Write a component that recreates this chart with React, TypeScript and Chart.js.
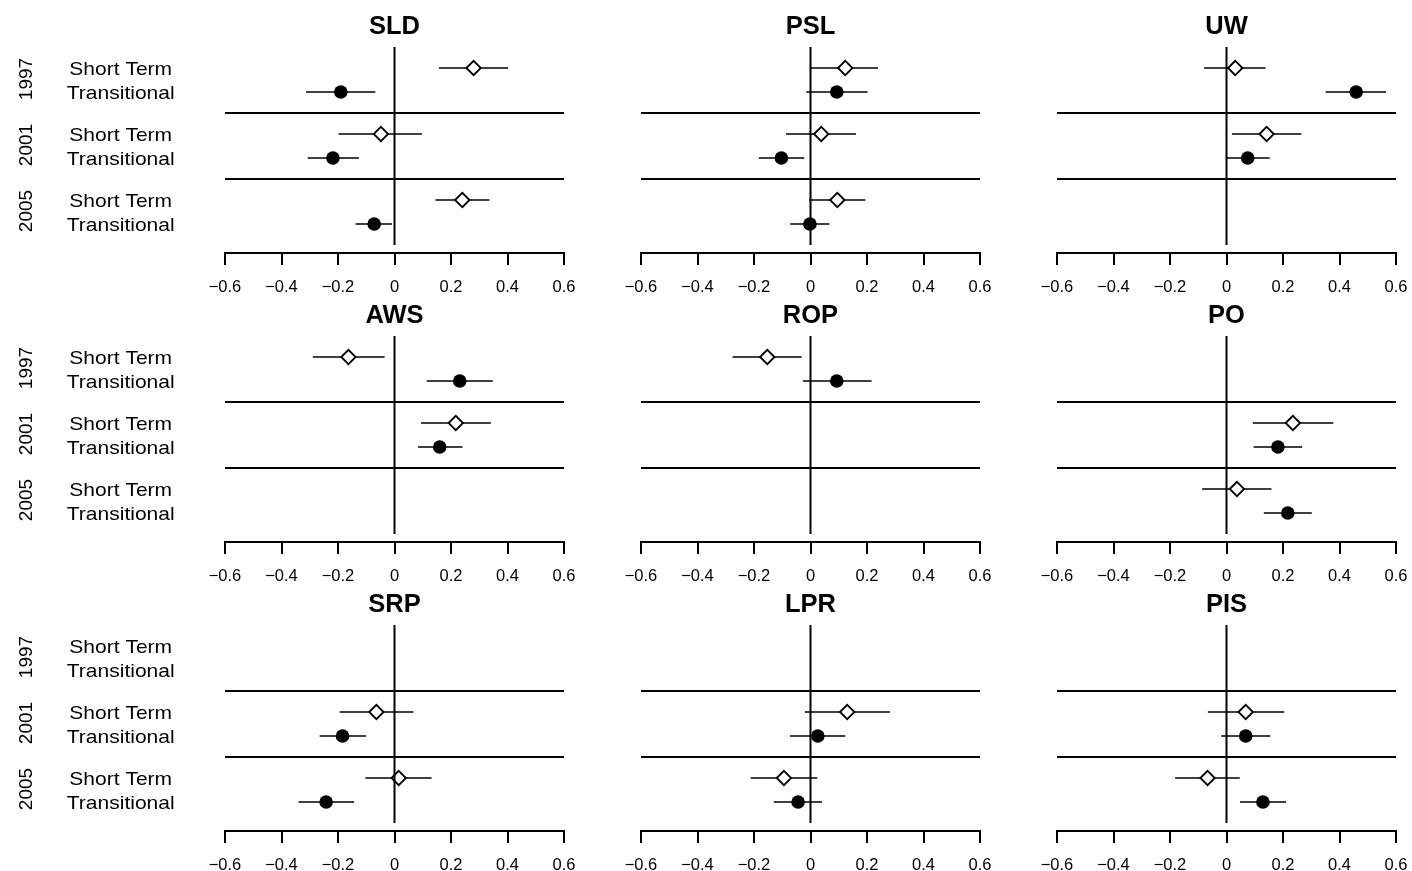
import React, { useEffect, useRef } from "react";
import { Chart, registerables } from "chart.js";

Chart.register(...registerables);

// ---------- data ----------
const PANEL_NAMES = ["SLD", "PSL", "UW", "AWS", "ROP", "PO", "SRP", "LPR", "PIS"];
const ROW_LABELS = ["Short Term", "Transitional", "Short Term", "Transitional", "Short Term", "Transitional"];
const YEARS = ["1997", "2001", "2005"];
const ROW_POS = [0, 1, 2.75, 3.75, 5.5, 6.5];
const SEPARATORS = [1.875, 4.625];
const X_TICKS = [-0.6, -0.4, -0.2, 0, 0.2, 0.4, 0.6];

// order of rows: 1997 ST, 1997 T, 2001 ST, 2001 T, 2005 ST, 2005 T
const SLD_EST = [0.28, -0.19, -0.048, -0.218, 0.24, -0.072];
const SLD_LOW = [0.157, -0.313, -0.198, -0.307, 0.145, -0.138];
const SLD_HIGH = [0.402, -0.068, 0.097, -0.126, 0.336, -0.009];

const PSL_EST = [0.123, 0.093, 0.038, -0.103, 0.095, -0.002];
const PSL_LOW = [0.002, -0.015, -0.087, -0.183, -0.005, -0.072];
const PSL_HIGH = [0.239, 0.202, 0.161, -0.022, 0.194, 0.067];

const UW_EST = [0.031, 0.459, 0.142, 0.075, null, null];
const UW_LOW = [-0.079, 0.351, 0.019, 0.0, null, null];
const UW_HIGH = [0.138, 0.565, 0.265, 0.153, null, null];

const AWS_EST = [-0.163, 0.231, 0.217, 0.16, null, null];
const AWS_LOW = [-0.289, 0.114, 0.094, 0.083, null, null];
const AWS_HIGH = [-0.035, 0.348, 0.341, 0.241, null, null];

const ROP_EST = [-0.153, 0.093, null, null, null, null];
const ROP_LOW = [-0.276, -0.027, null, null, null, null];
const ROP_HIGH = [-0.031, 0.216, null, null, null, null];

const PO_EST = [null, null, 0.235, 0.182, 0.037, 0.217];
const PO_LOW = [null, null, 0.093, 0.096, -0.086, 0.132];
const PO_HIGH = [null, null, 0.378, 0.268, 0.159, 0.302];

const SRP_EST = [null, null, -0.064, -0.184, 0.015, -0.242];
const SRP_LOW = [null, null, -0.194, -0.265, -0.103, -0.34];
const SRP_HIGH = [null, null, 0.067, -0.101, 0.131, -0.143];

const LPR_EST = [null, null, 0.13, 0.026, -0.094, -0.044];
const LPR_LOW = [null, null, -0.02, -0.073, -0.212, -0.13];
const LPR_HIGH = [null, null, 0.281, 0.123, 0.024, 0.041];

const PIS_EST = [null, null, 0.068, 0.068, -0.067, 0.129];
const PIS_LOW = [null, null, -0.066, -0.019, -0.182, 0.048];
const PIS_HIGH = [null, null, 0.204, 0.155, 0.047, 0.211];

const PANEL_EST = [SLD_EST, PSL_EST, UW_EST, AWS_EST, ROP_EST, PO_EST, SRP_EST, LPR_EST, PIS_EST];
const PANEL_LOW = [SLD_LOW, PSL_LOW, UW_LOW, AWS_LOW, ROP_LOW, PO_LOW, SRP_LOW, LPR_LOW, PIS_LOW];
const PANEL_HIGH = [SLD_HIGH, PSL_HIGH, UW_HIGH, AWS_HIGH, ROP_HIGH, PO_HIGH, SRP_HIGH, LPR_HIGH, PIS_HIGH];

// ---------- layout / style ----------
const FONT = '"Liberation Sans", Arial, Helvetica, sans-serif';
const X_MIN = -0.6;
const X_MAX = 0.6;
const Y_MIN = -0.875;
const Y_MAX = 7.708;
const ZERO_FROM = -0.875;
const ZERO_TO = 7.375;
const CANVAS_W = 580;
const CANVAS_H = 300;
const COL_LEFT = [0, 416, 832];
const ROW_TOP = [0, 289, 578];
const LABEL_STRETCH = 1.105;

function fmtTick(v: number): string {
  const r = Math.round(v * 10) / 10;
  if (r === 0) return "0";
  return (r < 0 ? "\u2212" : "") + Math.abs(r).toFixed(1);
}

const rowLabelPlugin = {
  id: "rowLabels",
  afterDraw(chart: any) {
    const ctx = chart.ctx as CanvasRenderingContext2D;
    const ys = chart.scales.y;
    const left = chart.chartArea.left;
    ctx.save();
    ctx.fillStyle = "#000";
    ctx.font = `19px ${FONT}`;
    ROW_POS.forEach((pos, i) => {
      const y = ys.getPixelForValue(pos);
      ctx.save();
      ctx.translate(left - 104.3, y + 6.5);
      ctx.scale(LABEL_STRETCH, 1);
      ctx.textAlign = "center";
      ctx.textBaseline = "alphabetic";
      ctx.fillText(ROW_LABELS[i], 0, 0);
      ctx.restore();
    });
    YEARS.forEach((yr, g) => {
      const y = (ys.getPixelForValue(ROW_POS[2 * g]) + ys.getPixelForValue(ROW_POS[2 * g + 1])) / 2 - 1;
      ctx.save();
      ctx.translate(left - 193.3, y);
      ctx.rotate(-Math.PI / 2);
      ctx.textAlign = "center";
      ctx.textBaseline = "alphabetic";
      ctx.fillText(yr, 0, 0);
      ctx.restore();
    });
    ctx.restore();
  },
};

function Panel({ index }: { index: number }) {
  const ref = useRef<HTMLCanvasElement>(null);
  const col = index % 3;
  const row = Math.floor(index / 3);

  useEffect(() => {
    const canvas = ref.current;
    if (!canvas) return;
    const est = PANEL_EST[index];
    const lo = PANEL_LOW[index];
    const hi = PANEL_HIGH[index];

    const datasets: any[] = [];
    // zero reference line
    datasets.push({
      data: [
        { x: 0, y: ZERO_FROM },
        { x: 0, y: ZERO_TO },
      ],
      showLine: true,
      borderColor: "#000",
      borderWidth: 2,
      pointRadius: 0,
      order: 0,
      clip: false,
    });
    // year separators
    SEPARATORS.forEach((s) =>
      datasets.push({
        data: [
          { x: X_MIN, y: s },
          { x: X_MAX, y: s },
        ],
        showLine: true,
        borderColor: "#000",
        borderWidth: 2,
        pointRadius: 0,
        order: 0,
        clip: false,
      })
    );
    // confidence intervals
    ROW_POS.forEach((pos, i) => {
      if (est[i] == null) return;
      datasets.push({
        data: [
          { x: lo[i], y: pos },
          { x: hi[i], y: pos },
        ],
        showLine: true,
        borderColor: "#000",
        borderWidth: 1.5,
        pointRadius: 0,
        order: 2,
        clip: false,
      });
    });
    // short-term estimates (open diamonds)
    datasets.push({
      data: ROW_POS.map((pos, i) => (i % 2 === 0 && est[i] != null ? { x: est[i], y: pos } : null)).filter(
        (d) => d !== null
      ),
      pointStyle: "rectRot",
      pointRadius: 7.2,
      pointHoverRadius: 7.2,
      backgroundColor: "#fff",
      borderColor: "#000",
      borderWidth: 1.8,
      order: 1,
      clip: false,
    });
    // transitional estimates (filled dots)
    datasets.push({
      data: ROW_POS.map((pos, i) => (i % 2 === 1 && est[i] != null ? { x: est[i], y: pos } : null)).filter(
        (d) => d !== null
      ),
      pointStyle: "circle",
      pointRadius: 6.8,
      pointHoverRadius: 6.8,
      backgroundColor: "#000",
      borderColor: "#000",
      borderWidth: 0,
      order: 1,
      clip: false,
    });

    const chart = new Chart(canvas, {
      type: "scatter",
      data: { datasets },
      options: {
        responsive: false,
        animation: false,
        events: [],
        layout: { padding: { left: 225, right: 16, top: 0, bottom: 7 } },
        plugins: {
          legend: { display: false },
          tooltip: { enabled: false },
          title: {
            display: true,
            text: PANEL_NAMES[index],
            color: "#000",
            font: { family: FONT, size: 25.5, weight: "bold", lineHeight: 1.2 },
            padding: { top: 12, bottom: 4.4 },
          },
        },
        scales: {
          x: {
            type: "linear",
            position: "bottom",
            min: X_MIN,
            max: X_MAX,
            afterBuildTicks: (s: any) => {
              s.ticks = X_TICKS.map((v) => ({ value: v }));
            },
            afterFit: (s: any) => {
              s.height = 40;
              s.paddingLeft = 0;
              s.paddingRight = 0;
            },
            grid: {
              display: true,
              drawOnChartArea: false,
              drawTicks: true,
              tickLength: 12,
              color: "#000",
              lineWidth: 2,
            },
            border: { display: true, color: "#000", width: 2 },
            ticks: {
              color: "#000",
              font: { family: FONT, size: 16.5 },
              padding: 13,
              maxRotation: 0,
              autoSkip: false,
              callback: (v: any) => fmtTick(Number(v)),
            },
          },
          y: {
            type: "linear",
            display: false,
            reverse: true,
            min: Y_MIN,
            max: Y_MAX,
          },
        },
      } as any,
      plugins: col === 0 ? [rowLabelPlugin] : [],
    });
    return () => chart.destroy();
  }, [index, col]);

  return (
    <canvas
      ref={ref}
      width={CANVAS_W}
      height={CANVAS_H}
      style={{
        position: "absolute",
        left: COL_LEFT[col],
        top: ROW_TOP[row],
        width: CANVAS_W,
        height: CANVAS_H,
      }}
    />
  );
}

export default function App() {
  return (
    <div
      style={{
        position: "fixed",
        left: 0,
        top: 0,
        width: 1412,
        height: 871,
        background: "#fff",
        overflow: "hidden",
      }}
    >
      {PANEL_NAMES.map((name, i) => (
        <Panel key={name} index={i} />
      ))}
    </div>
  );
}
